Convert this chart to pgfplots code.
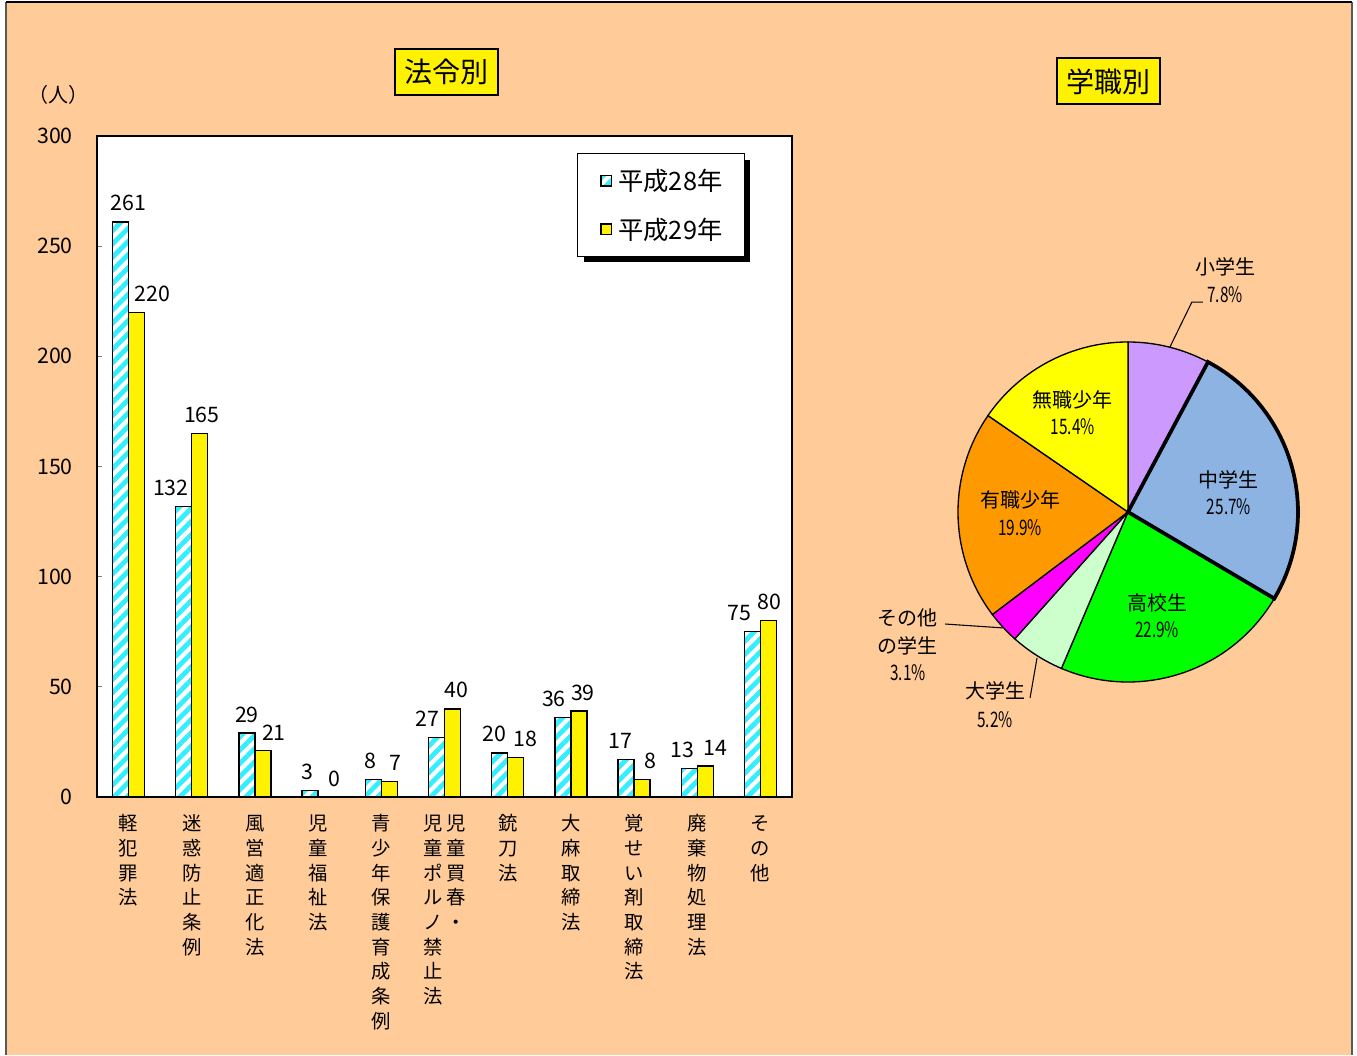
\documentclass[border=0pt]{standalone}
\usepackage{pgfplots}
\pgfplotsset{compat=1.18}
\usepackage{pgfplotstable}
\usepackage{fontspec}
\setmainfont{Noto Sans CJK JP}
\newfontfamily\narrow[FakeStretch=0.72]{Noto Sans CJK JP}
\usetikzlibrary{patterns.meta,shadows}

\makeatletter
\tikzset{no preactions/.code={\let\tikz@preactions\pgfutil@empty}}
\makeatother

\definecolor{bg}{HTML}{FFCC99}
\definecolor{stripe}{HTML}{33EEFF}
\definecolor{lav}{HTML}{CC99FF}
\definecolor{jhs}{HTML}{8DB3E2}
\definecolor{hs}{HTML}{00FF00}
\definecolor{univ}{HTML}{CCFFCC}
\definecolor{oth}{HTML}{FF00FF}
\definecolor{emp}{HTML}{FF9900}
\definecolor{unemp}{HTML}{FFFF00}

% x = category index, dx = label shift (pt)
\pgfplotstableread{
x y dx
0 261 6
1 132 -9.75
2 29 0
3 3 -2.25
4 8 -2.25
5 27 -6.75
6 20 -3.75
7 36 -6.75
8 17 -4.5
9 13 -5.25
10 75 -9.75
}\dataA
\pgfplotstableread{
x y dx
0 220 12
1 165 1.5
2 21 8.25
3 0 6
4 7 4.5
5 40 3
6 18 7.5
7 39 3
8 8 6
9 14 7.5
10 80 0.75
}\dataB

\newcommand\vt[1]{\begin{tabular}[t]{@{}c@{}}#1\end{tabular}}

\pgfplotsset{/pgf/number format/assume math mode=true}

\begin{document}
\begin{tikzpicture}
\begin{scope}[x=0.75pt,y=-0.75pt]
  \fill[white] (0,0) rectangle (1357,1055);
  \fill[bg] (6,2) rectangle (1352,1055);
  \draw[gray!70!black, line width=1.5pt] (6,2) -- (6,1055) (1352,2) -- (1352,1055);
  \draw[black, line width=0.8pt] (6,2) -- (1352,2);
  \node[draw, line width=1.5pt, fill=yellow, minimum width=77pt, minimum height=34.5pt,
        inner sep=0pt, font=\fontsize{21}{21}\selectfont] at (446.5,72) {法令別};
  \node[draw, line width=1.5pt, fill=yellow, minimum width=77pt, minimum height=34.5pt,
        inner sep=0pt, font=\fontsize{21}{21}\selectfont] at (1108.5,81.5) {学職別};
  \node[font=\fontsize{15}{15}\selectfont] at (58,95) {（人）};
\end{scope}

\begin{axis}[
    at={(72.75pt,-597.75pt)}, anchor=south west,
    scale only axis, width=521.25pt, height=495.75pt,
    xmin=-0.5, xmax=10.5, ymin=0, ymax=300,
    ytick={0,50,...,300}, ytick pos=left,
    xtick={0,...,10},
    xticklabels={
      \vt{軽\\犯\\罪\\法},
      \vt{迷\\惑\\防\\止\\条\\例},
      \vt{風\\営\\適\\正\\化\\法},
      \vt{児\\童\\福\\祉\\法},
      \vt{青\\少\\年\\保\\護\\育\\成\\条\\例},
      \vt{児\\童\\ポ\\ル\\ノ\\禁\\止\\法}\hspace{3pt}\vt{児\\童\\買\\春\\・},
      \vt{銃\\刀\\法},
      \vt{大\\麻\\取\\締\\法},
      \vt{覚\\せ\\い\\剤\\取\\締\\法},
      \vt{廃\\棄\\物\\処\\理\\法},
      \vt{そ\\の\\他}},
    xticklabel style={anchor=north, yshift=-5pt, font=\fontsize{14.5}{18.5}\selectfont},
    yticklabel style={inner sep=0pt, xshift=-18pt, font=\fontsize{16}{16}\selectfont},
    xtick style={draw=none},
    ytick style={line width=0.8pt},
    tick align=inside, major tick length=4pt,
    axis line style={line width=1.2pt},
    axis background/.style={fill=white},
    ybar=0pt, bar width=12pt,
    nodes near coords,
    visualization depends on={\thisrow{dx} \as \dx},
    every node near coord/.append style={font=\fontsize{16}{16}\selectfont,
        inner sep=0pt, yshift=7.5pt, xshift=\dx pt, black},
    legend style={at={(0.6906,0.9743)}, anchor=north west, draw=black, line width=1pt,
        fill=white, font=\fontsize{19}{19}\selectfont, row sep=15pt,
        inner xsep=14.5pt, inner ysep=9.5pt,
        drop shadow={shadow xshift=4.5pt, shadow yshift=-4.5pt, opacity=1, fill=black}},
    legend cell align=left,
    legend image code/.code={
      \pgfpathrectangle{\pgfpoint{0pt}{-4pt}}{\pgfpoint{14pt}{8pt}}\pgfusepath{use as bounding box}
      \draw[no preactions, #1, line width=1pt] (3pt,-4pt) rectangle (11pt,4pt);},
  ]
  \addplot[draw=black, line width=1pt, fill=white,
      postaction={pattern={Lines[angle=45, distance=7pt, line width=3.6pt]}, pattern color=stripe}]
      table[x=x, y=y] {\dataA};
  \addplot[draw=black, line width=1pt, fill=yellow] table[x=x, y=y] {\dataB};
  \legend{平成28年, 平成29年}
\end{axis}

\begin{axis}[
    at={(637.5pt,-570pt)}, anchor=south west,
    scale only axis, width=375pt, height=390pt,
    xmin=-1.635, xmax=1.306, ymin=-1.459, ymax=1.6,
    hide axis, clip=false,
  ]
  % wedges: 7.8, 25.7, 22.9, 5.2, 3.1, 19.9, 15.4 (%), clockwise from top
  \filldraw[fill=lav, line width=1pt] (axis cs:0,0) -- (axis cs:0,1)
      arc[start angle=90, end angle=61.92, radius=127.5pt] -- cycle;
  \filldraw[fill=hs, line width=1pt] (axis cs:0,0) -- (axis cs:0.8607,-0.5090)
      arc[start angle=-30.6, end angle=-113.04, radius=127.5pt] -- cycle;
  \filldraw[fill=univ, line width=1pt] (axis cs:0,0) -- (axis cs:-0.3914,-0.9202)
      arc[start angle=-113.04, end angle=-131.76, radius=127.5pt] -- cycle;
  \filldraw[fill=oth, line width=1pt] (axis cs:0,0) -- (axis cs:-0.6657,-0.7462)
      arc[start angle=-131.76, end angle=-142.92, radius=127.5pt] -- cycle;
  \filldraw[fill=emp, line width=1pt] (axis cs:0,0) -- (axis cs:-0.7976,-0.6032)
      arc[start angle=-142.92, end angle=-214.56, radius=127.5pt] -- cycle;
  \filldraw[fill=unemp, line width=1pt] (axis cs:0,0) -- (axis cs:-0.8235,0.5673)
      arc[start angle=-214.56, end angle=-270, radius=127.5pt] -- cycle;
  \filldraw[fill=jhs, line width=2.8pt] (axis cs:0,0) -- (axis cs:0.4707,0.8823)
      arc[start angle=61.92, end angle=-30.6, radius=127.5pt] -- cycle;

  \draw[line width=0.8pt] (axis cs:0.441,1.235) -- (axis cs:0.376,1.235) -- (axis cs:0.247,0.971);
  \draw[line width=0.8pt] (axis cs:-1.076,-0.659) -- (axis cs:-0.735,-0.682);
  \draw[line width=0.8pt] (axis cs:-0.576,-1.094) -- (axis cs:-0.535,-0.859);

  \begin{scope}[every node/.style={font=\fontsize{15}{15}\selectfont, inner sep=0pt}]
    \node at (axis cs:0.571,1.441) {小学生};
    \node at (axis cs:0.594,0.188) {中学生};
    \node at (axis cs:0.171,-0.535) {高校生};
    \node at (axis cs:-0.324,0.659) {無職少年};
    \node at (axis cs:-0.635,0.071) {有職少年};
    \node at (axis cs:-1.294,-0.624) {その他};
    \node at (axis cs:-1.294,-0.788) {の学生};
    \node at (axis cs:-0.782,-1.053) {大学生};
  \end{scope}
  \begin{scope}[every node/.style={font=\narrow\fontsize{16}{16}\selectfont, inner sep=0pt}]
    \node at (axis cs:0.571,1.276) {7.8\%};
    \node at (axis cs:0.594,0.029) {25.7\%};
    \node at (axis cs:0.171,-0.694) {22.9\%};
    \node at (axis cs:-0.324,0.5) {15.4\%};
    \node at (axis cs:-0.635,-0.094) {19.9\%};
    \node at (axis cs:-1.294,-0.947) {3.1\%};
    \node at (axis cs:-0.782,-1.224) {5.2\%};
  \end{scope}
\end{axis}
\end{tikzpicture}
\end{document}
